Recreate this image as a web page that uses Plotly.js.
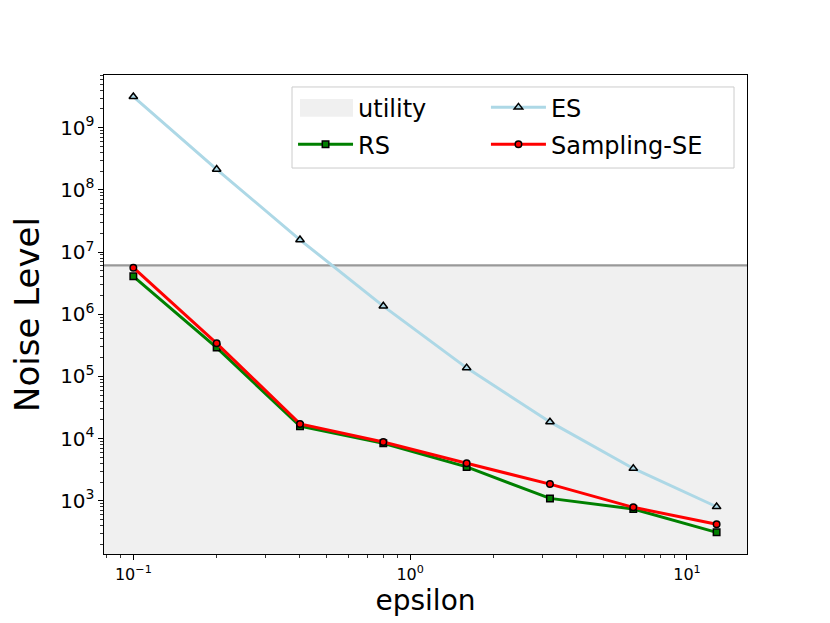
<!DOCTYPE html>
<html>
<head>
<meta charset="utf-8">
<script src="https://cdn.plot.ly/plotly-3.0.1.min.js"></script>
<style>
  body { margin: 0; background: #fff; }
  #graph { width: 830px; height: 623px; }
</style>
</head>
<body>
<div id="graph"></div>
<script>
var epsilon = [0.1, 0.2, 0.4, 0.8, 1.6, 3.2, 6.4, 12.8]
var esNoise = [3.15e9, 2.14e8, 1.57e7, 1.35e6, 1.37e5, 1.85e4, 3.3e3, 800]
var rsNoise = [4.07e6, 2.9e5, 1.58e4, 8.4e3, 3.5e3, 1.09e3, 736, 310]
var seNoise = [5.6e6, 3.4e5, 1.72e4, 8.8e3, 4.0e3, 1.85e3, 783, 417]
var utilityLevel = 6.1e6
var utilitySpan = [0.05, 30]   // wider than the x range so the band fills the plot
var utilityFloor = 1

var xTickVals = [0.1, 1, 10]
var xTickText = ['10<sup>\u22121</sup>', '10<sup>0</sup>', '10<sup>1</sup>']

var base = {
    x: utilitySpan,
    y: [utilityFloor, utilityFloor],
    mode: 'lines',
    line: {width: 0},
    showlegend: false,
    hoverinfo: 'skip'
}

// band below the utility level; its legend swatch is drawn as a shape
var utilityFill = {
    x: utilitySpan,
    y: [utilityLevel, utilityLevel],
    mode: 'lines',
    fill: 'tonexty',
    fillcolor: '#f0f0f0',
    line: {width: 0},
    showlegend: false,
    hoverinfo: 'skip'
}

var utilityLine = {
    x: utilitySpan,
    y: [utilityLevel, utilityLevel],
    mode: 'lines',
    line: {color: '#999999', width: 2.2},
    showlegend: false,
    hoverinfo: 'skip'
}

var utilityKey = {
    x: [null],
    y: [null],
    mode: 'lines',
    line: {width: 0, color: 'rgba(0,0,0,0)'},
    name: 'utility',
    legend: 'legend',
    legendgroup: 'a'
}

var trace1 = {
    x: epsilon,
    y: esNoise,
    mode: 'lines+markers',
    name: 'ES',
    legend: 'legend2',
    legendgroup: 'c',
    line: {color: '#add8e6', width: 3},
    marker: {symbol: 'triangle-up', size: 7.5, color: '#add8e6', line: {color: 'black', width: 1.5}}
}

var trace2 = {
    x: epsilon,
    y: rsNoise,
    mode: 'lines+markers',
    name: 'RS',
    legend: 'legend',
    legendgroup: 'b',
    line: {color: 'green', width: 3},
    marker: {symbol: 'square', size: 6.5, color: 'green', line: {color: 'black', width: 1.5}}
}

var trace3 = {
    x: epsilon,
    y: seNoise,
    mode: 'lines+markers',
    name: 'Sampling-SE',
    legend: 'legend2',
    legendgroup: 'd',
    line: {color: 'red', width: 3},
    marker: {symbol: 'circle', size: 6.5, color: 'red', line: {color: 'black', width: 1.5}}
}

var data = [base, utilityFill, utilityLine, utilityKey, trace1, trace2, trace3]

var axisCommon = {
    type: 'log',
    showgrid: false,
    zeroline: false,
    showline: true,
    mirror: true,
    linecolor: 'black',
    linewidth: 1.3,
    ticks: 'outside',
    ticklen: 5,
    tickwidth: 1,
    tickcolor: 'black',
    tickfont: {size: 16, color: 'black'},
    minor: {ticks: 'outside', ticklen: 2.5, tickwidth: 0.8, tickcolor: 'black', dtick: 'D1', showgrid: false},
    automargin: false
}

var legendCommon = {
    y: 0.979,
    xanchor: 'left',
    yanchor: 'top',
    bgcolor: 'rgba(0,0,0,0)',
    borderwidth: 0,
    font: {size: 24},
    itemwidth: 55,
    tracegroupgap: 3,
    traceorder: 'grouped'
}

var layout = {
    width: 830,
    height: 623,
    margin: {l: 104, r: 83, t: 75, b: 69},
    paper_bgcolor: 'white',
    plot_bgcolor: 'white',
    font: {family: 'DejaVu Sans', color: 'black'},
    hovermode: false,
    xaxis: Object.assign({}, axisCommon, {
        range: [-1.106, 1.217],
        tickmode: 'array',
        tickvals: xTickVals,
        ticktext: xTickText,
        title: {text: 'epsilon', font: {size: 28}, standoff: 8}
    }),
    yaxis: Object.assign({}, axisCommon, {
        range: [2.143, 9.847],
        dtick: 1,
        exponentformat: 'power',
        title: {text: 'Noise Level', font: {size: 34}, standoff: 10}
    }),
    legend: Object.assign({}, legendCommon, {x: 0.294}),
    legend2: Object.assign({}, legendCommon, {x: 0.594}),
    shapes: [
        // legend frame
        {type: 'rect', xref: 'paper', yref: 'paper', x0: 0.2924, x1: 0.9798, y0: 0.8058, y1: 0.975,
         fillcolor: 'rgba(255,255,255,0.8)', line: {color: '#cccccc', width: 1}, layer: 'above'},
        // utility swatch
        {type: 'rect', xref: 'paper', yref: 'paper', x0: 0.3048, x1: 0.3873, y0: 0.9129, y1: 0.9499,
         fillcolor: '#f0f0f0', line: {width: 0}, layer: 'above'}
    ]
}

Plotly.newPlot('graph', data, layout, {displayModeBar: false, staticPlot: true})
</script>
</body>
</html>
